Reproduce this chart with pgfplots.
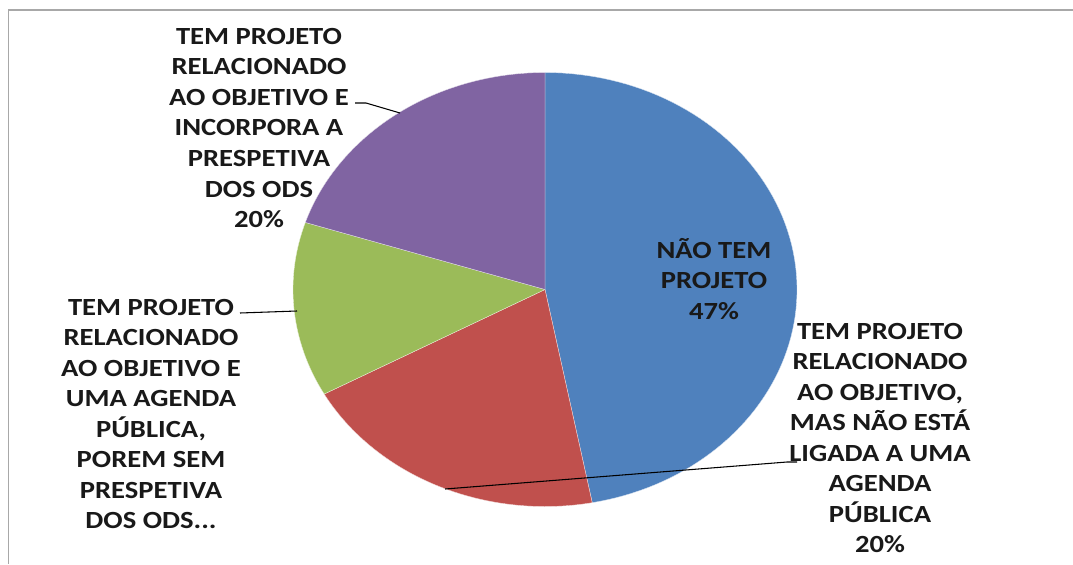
\documentclass[border=0pt]{standalone}
\usepackage{pgfplots}
\pgfplotsset{compat=1.18}
\usepackage{fontspec}
\setmainfont{Carlito}
\newfontfamily\lblfont[FakeStretch=1.16]{Carlito}
\definecolor{cblue}{HTML}{4F81BD}
\definecolor{cred}{HTML}{C0504D}
\definecolor{cgreen}{HTML}{9BBB59}
\definecolor{cpurple}{HTML}{8064A2}
\definecolor{frame}{HTML}{A8A8A8}
\tikzset{lbl/.style={font=\lblfont\bfseries\fontsize{18.5}{22.9}\selectfont, align=center, inner sep=0pt, text=black!90}}
% shares (percent)
\def\vA{47}\def\vB{20}\def\vC{13}\def\vD{20}
\pgfmathsetmacro\aA{90}
\pgfmathsetmacro\aB{\aA-3.6*\vA}
\pgfmathsetmacro\aC{\aB-3.6*\vB}
\pgfmathsetmacro\aD{\aC-3.6*\vC}
\pgfmathsetmacro\aE{\aD-3.6*\vD}
\def\cx{545}\def\cy{289.5}\def\rx{252}\def\ry{217}
\begin{document}
\begin{tikzpicture}
\begin{axis}[width=804.75pt, height=423pt, scale only axis,
  xmin=0, xmax=1073, ymin=0, ymax=564, y dir=reverse,
  hide axis, clip=false]
% frame
\addplot[frame, line width=1.2pt] coordinates {(1073,10) (8.5,10) (8.5,564)};
% slices
\addplot[fill=cblue, draw=white!80!cblue, line width=0.25pt, domain=\aB:\aA, samples=90, variable=\t]
  ({\cx+\rx*cos(\t)}, {\cy-\ry*sin(\t)}) -- (axis cs:\cx,\cy) -- cycle;
\addplot[fill=cred, draw=white!80!cred, line width=0.25pt, domain=\aC:\aB, samples=60, variable=\t]
  ({\cx+\rx*cos(\t)}, {\cy-\ry*sin(\t)}) -- (axis cs:\cx,\cy) -- cycle;
\addplot[fill=cgreen, draw=white!80!cgreen, line width=0.25pt, domain=\aD:\aC, samples=50, variable=\t]
  ({\cx+\rx*cos(\t)}, {\cy-\ry*sin(\t)}) -- (axis cs:\cx,\cy) -- cycle;
\addplot[fill=cpurple, draw=white!80!cpurple, line width=0.25pt, domain=\aE:\aD, samples=60, variable=\t]
  ({\cx+\rx*cos(\t)}, {\cy-\ry*sin(\t)}) -- (axis cs:\cx,\cy) -- cycle;
% leader lines
\addplot[black, line width=0.8pt] coordinates {(355,103) (366,103) (400,113)};
\addplot[black, line width=0.8pt] coordinates {(240,313) (297,311)};
\addplot[black, line width=0.8pt] coordinates {(445,489) (787,462) (797,462)};
% labels
\node[lbl] at (axis cs:259,128) {TEM PROJETO\\RELACIONADO\\AO OBJETIVO E\\INCORPORA A\\PRESPETIVA\\DOS ODS\\20\%};
\node[lbl] at (axis cs:151,414) {TEM PROJETO\\RELACIONADO\\AO OBJETIVO E\\UMA AGENDA\\PÚBLICA,\\POREM SEM\\PRESPETIVA\\DOS ODS...};
\node[lbl] at (axis cs:880,438) {TEM PROJETO\\RELACIONADO\\AO OBJETIVO,\\MAS NÃO ESTÁ\\LIGADA A UMA\\AGENDA\\PÚBLICA\\20\%};
\node[lbl] at (axis cs:714,279) {NÃO TEM\\PROJETO\\47\%};
\end{axis}
\pgfresetboundingbox
\useasboundingbox (current axis.south west) rectangle (current axis.north east);
\end{tikzpicture}
\end{document}
